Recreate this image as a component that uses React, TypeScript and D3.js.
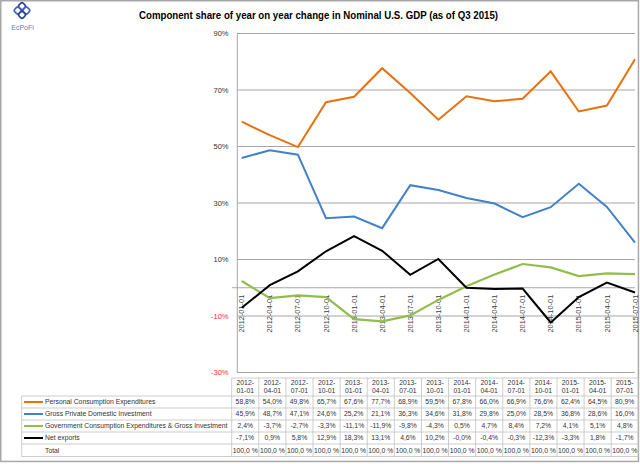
import React from "react";
import * as d3 from "d3";

const categories = ["2012-01-01","2012-04-01","2012-07-01","2012-10-01","2013-01-01","2013-04-01","2013-07-01","2013-10-01","2014-01-01","2014-04-01","2014-07-01","2014-10-01","2015-01-01","2015-04-01","2015-07-01"];
const pce = [58.8,54.0,49.8,65.7,67.6,77.7,68.9,59.5,67.8,66.0,66.9,76.6,62.4,64.5,80.9];
const gpdi = [45.9,48.7,47.1,24.6,25.2,21.1,36.3,34.6,31.8,29.8,25.0,28.5,36.8,28.6,16.0];
const gov = [2.4,-3.7,-2.7,-3.3,-11.1,-11.9,-9.8,-4.3,0.5,4.7,8.4,7.2,4.1,5.1,4.8];
const netx = [-7.1,0.9,5.8,12.9,18.3,13.1,4.6,10.2,-0.0,-0.4,-0.3,-12.3,-3.3,1.8,-1.7];
const total = [100,100,100,100,100,100,100,100,100,100,100,100,100,100,100];
const yTicks = [-30,-10,10,30,50,70,90];
const title = "Component share of year on year change in Nominal U.S. GDP (as of Q3 2015)";

const series = [
  { name: "Personal Consumption Expenditures", values: pce, color: "#E8700D", width: 2 },
  { name: "Gross Private Domestic Investment", values: gpdi, color: "#4381C8", width: 2 },
  { name: "Government Consumption Expenditures & Gross Investment", values: gov, color: "#93BD4A", width: 2.2 },
  { name: "Net exports", values: netx, color: "#000000", width: 2 },
];

const fmt = (v: number) => {
  let s = (Math.abs(v) < 0.05 && Object.is(v, -0) || (v < 0 && v > -0.05)) ? "-0.0" : v.toFixed(1);
  if (v === 0 && 1 / v < 0) s = "-0.0";
  return s.replace(".", ",") + "%";
};

export default function App() {
  const x = d3.scalePoint<string>().domain(categories).range([241.7, 635]);
  const y = d3.scaleLinear().domain([-30, 90]).range([372.5, 33.5]);
  const band = d3.scaleBand<string>().domain(categories).range([231.7, 638.3]);
  const line = d3.line<number>().x((_, i) => x(categories[i])!).y((d) => y(d));
  const font = "'Liberation Sans', Arial, sans-serif";
  const gridColor = "#a6a6a6";
  const tableColor = "#c0c0c0";
  const rowEdges = [396, 408, 420, 432, 444, 456.5];
  const rows = [...series.map((s) => ({ name: s.name, color: s.color, values: s.values, total: false })), { name: "Total", color: "", values: total, total: true }];

  return (
    <svg width={640} height={464} style={{ position: "absolute", left: 0, top: 0, background: "#fff" }} fontFamily={font}>
      <rect x={0} y={0} width={640} height={464} fill="#fff" />
      <rect x={0.75} y={0.75} width={637.7} height={460.7} fill="none" stroke="#a8a8a8" strokeWidth={1.5} />
      {/* logo */}
      <g transform="translate(22,10.5) rotate(45)" fill="none" stroke="#2a3f9a" strokeWidth={1.6}>
        <rect x={-6} y={-6} width={6} height={6} rx={2} />
        <rect x={0} y={-6} width={6} height={6} rx={2} stroke="#4a5fb5" />
        <rect x={-6} y={0} width={6} height={6} rx={2} stroke="#4a5fb5" />
        <rect x={0} y={0} width={6} height={6} rx={2} />
      </g>
      <text x={22.5} y={29.5} fontSize={7} fill="#6a7ab8" textAnchor="middle">EcPoFi</text>
      {/* title */}
      <text x={318.5} y={18.5} fontSize={10} fontWeight="bold" textAnchor="middle" fill="#000" textLength={359} lengthAdjust="spacingAndGlyphs">{title}</text>
      {/* gridlines */}
      {yTicks.map((t) => (
        <g key={t}>
          <line x1={237} x2={635} y1={y(t)} y2={y(t)} stroke={gridColor} strokeWidth={1} />
          <text x={228.5} y={y(t) + 2.5} fontSize={7.5} textAnchor="end" fill={t < 0 ? "#ff2b2b" : "#333"}>{t}%</text>
        </g>
      ))}
      <line x1={237.3} x2={237.3} y1={33.5} y2={372.5} stroke={gridColor} strokeWidth={1} />
      <line x1={232} x2={635} y1={y(0)} y2={y(0)} stroke={gridColor} strokeWidth={1} />
      {/* x labels */}
      {categories.map((c) => (
        <text key={c} transform={`translate(${x(c)! + 2.6},${y(0) + 7}) rotate(-90)`} fontSize={7.4} textAnchor="end" fill="#404040">{c}</text>
      ))}
      {/* lines */}
      {series.map((s) => (
        <path key={s.name} d={line(s.values)!} fill="none" stroke={s.color} strokeWidth={s.width} strokeLinejoin="miter" />
      ))}
      {/* table */}
      <g fontSize={6.8} fill="#333">
        {categories.map((c) => {
          const [yr, m, d] = c.split("-");
          const cx = band(c)! + band.bandwidth() / 2;
          return (
            <g key={c}>
              <text x={cx} y={385} textAnchor="middle">{yr}-</text>
              <text x={cx} y={393} textAnchor="middle">{m}-{d}</text>
            </g>
          );
        })}
        {rows.map((r, ri) => {
          const cy = (rowEdges[ri] + rowEdges[ri + 1]) / 2;
          return (
            <g key={r.name}>
              {!r.total && <line x1={24} x2={43} y1={cy} y2={cy} stroke={r.color} strokeWidth={2} />}
              <text x={45} y={cy + 2.4}>{r.name}</text>
              {r.values.map((v, i) => (
                <text key={i} x={band(categories[i])! + band.bandwidth() / 2} y={cy + 2.4} textAnchor="middle">
                  {r.total ? v.toFixed(1).replace(".", ",") + " %" : fmt(r.name === "Net exports" && i === 8 ? -0.0001 : v)}
                </text>
              ))}
            </g>
          );
        })}
      </g>
      <g stroke={tableColor} strokeWidth={0.8} fill="none">
        <line x1={231.7} x2={638.3} y1={378} y2={378} />
        {rowEdges.map((e) => (
          <line key={e} x1={21.7} x2={638.3} y1={e} y2={e} />
        ))}
        <line x1={21.7} x2={21.7} y1={396} y2={456.5} />
        {categories.map((c) => (
          <line key={c} x1={band(c)!} x2={band(c)!} y1={378} y2={456.5} />
        ))}
        <line x1={638.3} x2={638.3} y1={378} y2={456.5} />
      </g>
    </svg>
  );
}
